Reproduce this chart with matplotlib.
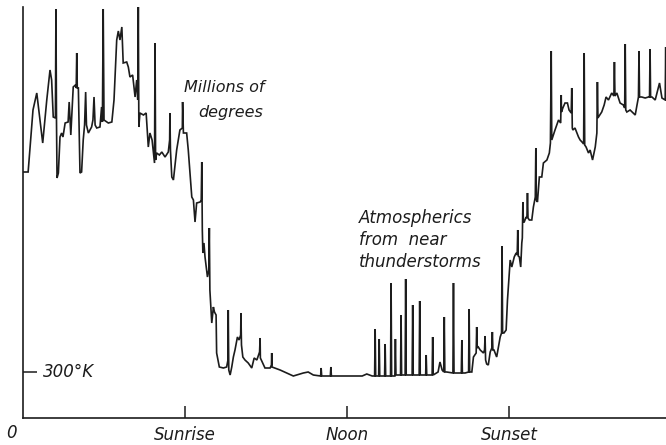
import matplotlib
matplotlib.use("Agg")
import matplotlib.pyplot as plt

# Time of day (hours) and recorder level (arbitrary units, 300 K mark at 46)
trace_time = [
    0.02, 0.19, 0.37, 0.51, 0.73, 0.88, 1.00, 1.06, 1.12, 1.20, 1.22, 1.24, 1.26, 1.31,
    1.37, 1.43, 1.48, 1.56, 1.67, 1.71, 1.77, 1.86, 1.94, 1.97, 1.99, 2.01, 2.05, 2.11,
    2.17, 2.23, 2.28, 2.32, 2.35, 2.42, 2.54, 2.59, 2.63, 2.67, 2.73, 2.85, 2.91, 2.94,
    2.97, 3.00, 3.16, 3.29, 3.37, 3.47, 3.53, 3.59, 3.66, 3.71, 3.84, 3.90, 3.96, 4.06,
    4.11, 4.15, 4.21, 4.25, 4.27, 4.29, 4.33, 4.46, 4.56, 4.64, 4.70, 4.78, 4.87, 4.89,
    4.91, 4.95, 5.05, 5.14, 5.26, 5.38, 5.43, 5.44, 5.46, 5.51, 5.57, 5.69, 5.81, 5.90,
    5.91, 5.94, 6.06, 6.12, 6.25, 6.31, 6.37, 6.43, 6.56, 6.60, 6.62, 6.64, 6.66, 6.70,
    6.74, 6.83, 6.88, 6.90, 6.92, 6.99, 7.05, 7.09, 7.15, 7.17, 7.27, 7.42, 7.54, 7.59,
    7.60, 7.62, 7.67, 7.73, 7.79, 7.85, 7.94, 8.00, 8.06, 8.07, 8.09, 8.14, 8.22, 8.34,
    8.47, 8.56, 8.66, 8.76, 8.78, 8.79, 8.96, 9.15, 9.20, 9.21, 9.22, 9.52, 9.77, 10.01,
    10.38, 10.56, 10.75, 11.02, 11.04, 11.06, 11.38, 11.40, 11.42, 11.74, 12.36, 12.56,
    12.73, 12.93,
    13.02, 13.04, 13.06, 13.17, 13.19, 13.21, 13.39, 13.41, 13.43, 13.61, 13.63, 13.65,
    13.77, 13.79, 13.81, 13.98, 14.00, 14.02, 14.15, 14.17, 14.19, 14.41, 14.43, 14.45,
    14.67, 14.69, 14.71, 14.91, 14.93, 14.95, 15.15, 15.17, 15.19, 15.37, 15.44, 15.52,
    15.58, 15.60, 15.62, 15.69, 15.92, 15.94, 15.96, 16.23, 16.25, 16.27, 16.37, 16.50,
    16.52, 16.54, 16.62, 16.68, 16.78, 16.80, 16.82, 16.86, 16.93, 17.05, 17.09, 17.11,
    17.13, 17.17, 17.23, 17.30, 17.36, 17.38, 17.40, 17.44, 17.54, 17.60, 17.67, 17.72,
    17.74, 17.76, 17.81, 17.89, 17.94, 18.04, 18.10, 18.19, 18.26, 18.30, 18.32, 18.34,
    18.38, 18.43, 18.47, 18.49, 18.51, 18.53, 18.56, 18.63, 18.66, 18.68, 18.70, 18.75,
    18.84, 18.90, 18.97, 18.99, 19.01, 19.05, 19.12, 19.21, 19.27, 19.40, 19.49, 19.53,
    19.56, 19.58, 19.70, 19.83, 19.91, 19.93, 19.94, 19.99, 20.07, 20.16, 20.22, 20.30,
    20.32, 20.34, 20.36, 20.44, 20.51, 20.57, 20.63, 20.70, 20.76, 20.78, 20.80, 20.85,
    20.94, 21.00, 21.09, 21.15, 21.19, 21.25, 21.27, 21.29, 21.31, 21.43, 21.52, 21.59,
    21.68, 21.80, 21.88, 21.90, 21.92, 21.99, 22.11, 22.23, 22.28, 22.30, 22.32, 22.36,
    22.48, 22.67, 22.79, 22.81, 22.83, 22.91, 23.04, 23.16, 23.20, 23.22, 23.24, 23.29,
    23.41, 23.57, 23.66, 23.78, 23.80, 23.81,
]
trace_level = [
    246, 246, 308, 325, 275, 318, 348, 338, 301, 300, 409, 298, 240, 245,
    281, 285, 281, 295, 296, 316, 283, 331, 333, 330, 365, 330, 330, 245,
    246, 278, 293, 326, 293, 285, 291, 298, 321, 293, 290, 291, 311, 296,
    409, 298, 295, 296, 318, 378, 387, 378, 391, 355, 356, 351, 341, 343,
    331, 321, 338, 318, 411, 291, 305, 303, 305, 271, 285, 278, 255, 375,
    258, 265, 263, 266, 261, 266, 278, 305, 268, 241, 238, 268, 288, 290,
    316, 285, 285, 268, 221, 218, 196, 215, 216, 218, 256, 188, 165, 175,
    161, 141, 148, 190, 128, 95, 111, 106, 103, 65, 51, 50, 51, 58,
    108, 48, 43, 51, 61, 68, 81, 78, 83, 105, 73, 61, 58, 55,
    50, 60, 58, 66, 80, 60, 50, 50, 53, 65, 51, 48, 45, 42,
    45, 46, 43, 42, 50, 42, 42, 51, 42, 42, 42, 42,
    44, 42,
    42, 89, 42, 42, 79, 42, 42, 74, 42, 42, 135, 42,
    42, 79, 43, 43, 103, 43, 43, 139, 43, 43, 113, 43,
    43, 117, 43, 43, 63, 43, 43, 81, 43, 46, 56, 48,
    46, 101, 46, 46, 45, 135, 45, 45, 78, 45, 45, 46,
    109, 46, 46, 61, 65, 91, 70, 71, 68, 65, 68, 82,
    58, 54, 53, 66, 70, 86, 68, 68, 61, 70, 81, 85,
    172, 85, 85, 88, 118, 158, 151, 161, 165, 163, 188, 162,
    161, 151, 175, 180, 216, 196, 196, 201, 200, 225, 200, 198,
    198, 211, 221, 270, 218, 216, 241, 241, 255, 258, 265, 275,
    367, 278, 288, 298, 295, 323, 306, 310, 315, 315, 308, 305,
    330, 290, 288, 290, 285, 281, 278, 276, 274, 365, 273, 271,
    265, 268, 258, 266, 271, 285, 336, 300, 301, 306, 313, 321,
    318, 325, 322, 356, 322, 325, 315, 313, 310, 374, 308, 306,
    308, 303, 321, 367, 321, 321, 320, 321, 321, 369, 321, 321,
    318, 335, 320, 318, 371, 318,
]

tick_hours = [6, 12, 18]
tick_labels = ["Sunrise", "Noon", "Sunset"]
ref_level = 46
ref_label = "300°K"

ink = "#1c1c1c"
fig = plt.figure(figsize=(6.66, 4.45), dpi=100)
ax = fig.add_axes([23 / 666, 27 / 445, 643 / 666, 418 / 445])
ax.plot(trace_time, trace_level, color=ink, lw=1.2, solid_joinstyle="miter")

ax.set_xlim(0, 23.81)
ax.set_ylim(0, 418)
for s in ("top", "right"):
    ax.spines[s].set_visible(False)
for s in ("left", "bottom"):
    ax.spines[s].set_color(ink)
    ax.spines[s].set_linewidth(1.2)
ax.spines["left"].set_bounds(0, 411)

font = dict(family="DejaVu Sans", style="italic", color=ink)
ax.set_xticks(tick_hours)
ax.set_xticklabels(tick_labels, fontsize=12, **font)
ax.tick_params(axis="x", direction="in", length=9, width=1.1, color=ink, pad=6)
ax.set_yticks([ref_level])
ax.set_yticklabels([])
ax.tick_params(axis="y", direction="in", length=10, width=1.1, color=ink)
ax.text(0.74, ref_level, ref_label, ha="left", va="center", fontsize=12, **font)
ax.text(-0.42, -15, "0", ha="center", va="center", fontsize=12, clip_on=False, **font)

ax.text(7.44, 330, "Millions of", ha="center", va="center", fontsize=11.5, **font)
ax.text(7.70, 305, "degrees", ha="center", va="center", fontsize=11.5, **font)
ax.text(12.44, 200, "Atmospherics", ha="left", va="center", fontsize=12, **font)
ax.text(12.44, 178, "from  near", ha="left", va="center", fontsize=12, **font)
ax.text(12.44, 156, "thunderstorms", ha="left", va="center", fontsize=12, **font)

fig.savefig("out.png", dpi=100)
